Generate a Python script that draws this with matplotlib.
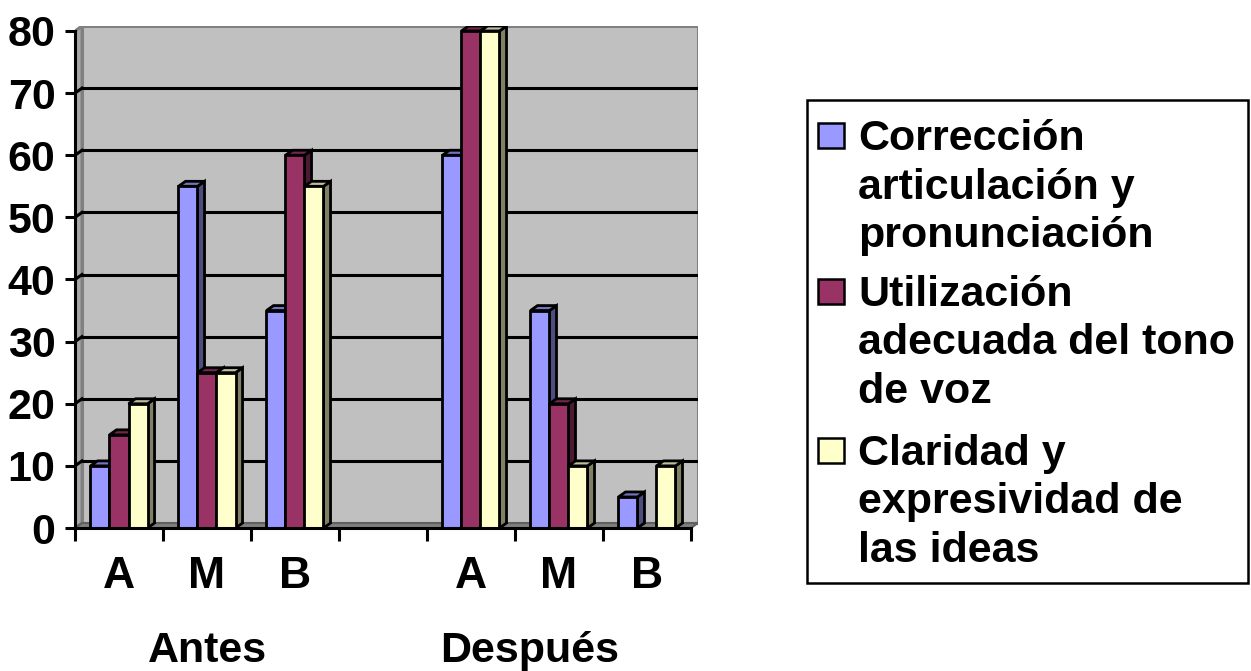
import numpy as np
import matplotlib.pyplot as plt
from matplotlib.patches import Polygon, Rectangle

plt.rcParams['font.family'] = ['Liberation Sans', 'DejaVu Sans']
plt.rcParams['font.weight'] = 'bold'

# Data
categories = ["A", "M", "B", "", "A", "M", "B"]
groups = ["Antes", "Después"]
series_names = ["Corrección\narticulación y\npronunciación",
                "Utilización\nadecuada del tono\nde voz",
                "Claridad y\nexpresividad de\nlas ideas"]
correccion = [10, 55, 35, np.nan, 60, 35, 5]
utilizacion = [15, 25, 60, np.nan, 80, 20, 0]
claridad = [20, 25, 55, np.nan, 80, 10, 10]
series = [correccion, utilizacion, claridad]
colors = ["#9999FF", "#993366", "#FFFFCC"]

def shade(c, f):
    r, g, b = [int(c[i:i + 2], 16) / 255 for i in (1, 3, 5)]
    return (r * f, g * f, b * f)

W, H = 1251, 671
fig = plt.figure(figsize=(W / 100, H / 100), dpi=100)
ax = fig.add_axes([75 / W, (H - 528) / H, 623 / W, 502 / H])

x = np.arange(len(categories))
bw = 0.216
dx, dy = 0.08, 0.8  # depth of the 3D effect in data units
x0, x1 = -0.5, len(categories) - 0.5
ymax = 80
ax.set_xlim(x0, x1 + dx)
ax.set_ylim(0, ymax + dy)

# walls and floor
ax.add_patch(Rectangle((x0 + dx, dy), x1 - x0, ymax, facecolor="#C0C0C0",
                       edgecolor="#808080", lw=2.2, zorder=0))
ax.add_patch(Polygon([(x0, 0), (x0 + dx, dy), (x0 + dx, ymax + dy), (x0, ymax)],
                     closed=True, facecolor="#A8A8A8", edgecolor="#808080", lw=2.2, zorder=0))
ax.add_patch(Polygon([(x0, 0), (x1, 0), (x1 + dx, dy), (x0 + dx, dy)],
                     closed=True, facecolor="#808080", edgecolor="#606060", lw=1.5, zorder=0.5))
for v in range(10, ymax, 10):
    ax.plot([x0 + dx, x1 + dx], [v + dy, v + dy], color="black", lw=2.2, zorder=0.6)
    ax.plot([x0, x0 + dx], [v, v + dy], color="black", lw=2.2, zorder=0.6)

# bars with 3D faces
lw = 2.0
for k, (vals, col) in enumerate(zip(series, colors)):
    off = (k - 1) * bw
    for i, v in enumerate(vals):
        if np.isnan(v) or v == 0:
            continue
        left = x[i] + off - bw / 2
        right = left + bw
        z = 1 + k + i * 0.01
        ax.add_patch(Polygon([(right, 0), (right + dx, dy), (right + dx, v + dy), (right, v)],
                             closed=True, facecolor=shade(col, 0.5), edgecolor="black", lw=lw, zorder=z))
        ax.add_patch(Polygon([(left, v), (left + dx, v + dy), (right + dx, v + dy), (right, v)],
                             closed=True, facecolor=shade(col, 0.75), edgecolor="black", lw=lw, zorder=z))
    ax.bar(x + off, np.nan_to_num(vals), width=bw, color=col, edgecolor="black",
           lw=lw, zorder=1.5 + k)

# axes
for s in ["top", "right"]:
    ax.spines[s].set_visible(False)
ax.spines["left"].set_bounds(0, ymax)
ax.spines["bottom"].set_bounds(x0, x1)
for s in ["left", "bottom"]:
    ax.spines[s].set_linewidth(2.2)
    ax.spines[s].set_zorder(10)
ax.set_yticks(range(0, ymax + 1, 10))
ax.tick_params(axis="y", direction="out", length=7, width=2.2, labelsize=31, pad=7)
ax.set_xticks(np.arange(x0, x1 + 0.01, 1))
ax.set_xticklabels([])
ax.tick_params(axis="x", which="major", direction="out", length=9, width=2.2)
ax.set_xticks(x, minor=True)
ax.set_xticklabels(categories, minor=True)
ax.tick_params(axis="x", which="minor", length=0, labelsize=32, pad=20)
for lab in ax.get_yticklabels() + ax.get_xticklabels(minor=True):
    lab.set_fontweight("bold")

gy = (528 - 662) / 502
ax.text(1, gy, groups[0], transform=ax.get_xaxis_transform(), ha="center",
        va="baseline", fontsize=31, fontweight="bold")
ax.text(4.67, gy, groups[1], transform=ax.get_xaxis_transform(), ha="center",
        va="baseline", fontsize=31, fontweight="bold")

# legend
fig.patches.append(Rectangle((807 / W, 1 - 583 / H), 441 / W, 483 / H, transform=fig.transFigure,
                             facecolor="white", edgecolor="black", lw=1.8))
baselines = [150, 306, 465]
for name, col, by in zip(series_names, colors, baselines):
    fig.patches.append(Rectangle((818 / W, 1 - (by - 2) / H), 26 / W, 25 / H,
                                 transform=fig.transFigure, facecolor=col,
                                 edgecolor="black", lw=1.8))
    for j, line in enumerate(name.split("\n")):
        fig.text(858 / W, 1 - (by + j * 48.5) / H, line, ha="left", va="baseline",
                 fontsize=31, fontweight="bold")

fig.savefig("out.png", dpi=100)
